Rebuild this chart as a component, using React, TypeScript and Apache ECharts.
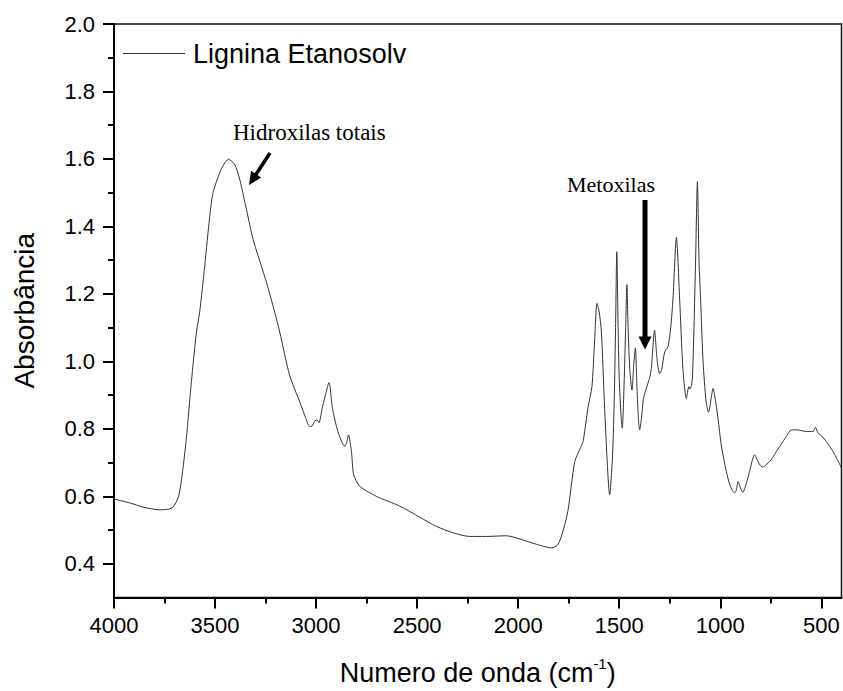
import React, { useEffect, useRef } from "react";
import * as echarts from "echarts";

const seriesName = "Lignina Etanosolv";

const wavenumber = [
  4000, 3920, 3856, 3774, 3730, 3708, 3683, 3667, 3642, 3617, 3592, 3576, 3551, 3526, 3510, 3477, 3455, 3434,
  3403, 3378, 3345, 3312, 3287, 3246, 3205, 3180, 3131, 3081, 3050, 3032, 3020, 3007, 2995, 2986, 2970, 2958,
  2936, 2919, 2892, 2858, 2848, 2840, 2825, 2814, 2784, 2702, 2586, 2487, 2405, 2323, 2240, 2157, 2058, 1959,
  1894, 1836, 1803, 1778, 1754, 1720, 1696, 1679, 1655, 1635, 1622, 1610, 1600, 1588, 1572, 1547, 1533, 1524,
  1518, 1512, 1506, 1500, 1490, 1485, 1475, 1468, 1462, 1456, 1448, 1437, 1428, 1420, 1412, 1405, 1399, 1390,
  1380, 1366, 1350, 1341, 1325, 1313, 1300, 1290, 1275, 1259, 1245, 1234, 1217, 1201, 1185, 1168, 1160, 1155,
  1150, 1143, 1138, 1130, 1122, 1113, 1105, 1095, 1085, 1070, 1058, 1045, 1036, 1028, 1011, 995, 970, 950, 929,
  920, 912, 900, 888, 870, 855, 840, 830, 815, 800, 789, 770, 756, 740, 722, 690, 670, 648, 620, 574, 541, 529,
  516, 500, 475, 442, 420, 400,
];

const absorbance = [
  0.592, 0.58, 0.568, 0.56, 0.562, 0.568, 0.595, 0.644, 0.772, 0.94, 1.087, 1.146, 1.284, 1.431, 1.5, 1.559,
  1.585, 1.599, 1.584, 1.54, 1.451, 1.362, 1.313, 1.235, 1.146, 1.087, 0.959, 0.88, 0.83, 0.807, 0.808, 0.823,
  0.826, 0.818, 0.86, 0.89, 0.937, 0.861, 0.792, 0.748, 0.76, 0.782, 0.733, 0.664, 0.63, 0.6, 0.571, 0.538,
  0.511, 0.492, 0.481, 0.481, 0.483, 0.467, 0.455, 0.447, 0.457, 0.497, 0.556, 0.703, 0.738, 0.762, 0.861,
  0.925, 1.058, 1.172, 1.15, 1.087, 0.861, 0.605, 0.72, 0.9, 1.1, 1.325, 1.12, 0.95, 0.83, 0.802, 0.95, 1.1,
  1.227, 1.1, 0.98, 0.915, 0.99, 1.04, 0.92, 0.83, 0.797, 0.83, 0.89, 0.92, 0.95, 0.979, 1.092, 1.008, 0.964,
  0.975, 1.028, 1.043, 1.1, 1.185, 1.367, 1.185, 0.98, 0.89, 0.915, 0.925, 0.918, 0.928, 0.95, 1.1, 1.3, 1.533,
  1.3, 1.15, 1.0, 0.88, 0.849, 0.89, 0.92, 0.9, 0.831, 0.752, 0.674, 0.63, 0.61, 0.62, 0.644, 0.625, 0.612,
  0.64, 0.674, 0.71, 0.723, 0.705, 0.69, 0.687, 0.695, 0.703, 0.715, 0.733, 0.762, 0.78, 0.797, 0.797, 0.792,
  0.792, 0.804, 0.787, 0.78, 0.762, 0.733, 0.708, 0.684,
];

const xMajorTicks = [4000, 3500, 3000, 2500, 2000, 1500, 1000, 500];
const xMinorTicks = [3750, 3250, 2750, 2250, 1750, 1250, 750];
const yMajorTicks = [0.4, 0.6, 0.8, 1.0, 1.2, 1.4, 1.6, 1.8, 2.0];
const yMinorTicks = [0.5, 0.7, 0.9, 1.1, 1.3, 1.5, 1.7, 1.9];

const sans = "'Liberation Sans', Arial, sans-serif";
const serif = "'Liberation Serif', 'Times New Roman', serif";

function arrow(x1: number, y1: number, x2: number, y2: number, w: number, headLen: number, headHalf: number) {
  const dx = x2 - x1;
  const dy = y2 - y1;
  const len = Math.sqrt(dx * dx + dy * dy);
  const ux = dx / len;
  const uy = dy / len;
  const bx = x2 - ux * headLen;
  const by = y2 - uy * headLen;
  const px = -uy;
  const py = ux;
  return [
    {
      type: "line",
      shape: { x1, y1, x2: bx + ux * 1, y2: by + uy * 1 },
      style: { stroke: "#000", lineWidth: w },
      silent: true,
    },
    {
      type: "polygon",
      shape: {
        points: [
          [x2, y2],
          [bx + px * headHalf, by + py * headHalf],
          [bx - px * headHalf, by - py * headHalf],
        ],
      },
      style: { fill: "#000" },
      silent: true,
    },
  ];
}

export default function App() {
  const ref = useRef<HTMLDivElement>(null);
  useEffect(() => {
    const chart = echarts.init(ref.current!, null, { renderer: "svg" });
    const data = wavenumber.map((x, i) => [x, absorbance[i]]);
    const option: any = {
      animation: false,
      backgroundColor: "#fff",
      grid: {
        left: 114,
        right: 1.5,
        top: 24,
        bottom: 91,
        show: true,
        borderColor: "#111",
        borderWidth: 1.5,
      },
      legend: {
        data: [{ name: seriesName, icon: "rect" }],
        left: 118,
        top: 35,
        itemWidth: 62,
        itemHeight: 1.2,
        itemStyle: { color: "#333" },
        textStyle: { fontSize: 27, fontFamily: sans, color: "#000", padding: [0, 0, 0, 3] },
      },
      xAxis: [
        {
          type: "value",
          min: 400,
          max: 4000,
          inverse: true,
          position: "bottom",
          splitLine: { show: false },
          axisLine: { show: true, onZero: false, lineStyle: { color: "#000", width: 2 } },
          axisTick: { show: true, customValues: xMajorTicks, length: 11, lineStyle: { color: "#000", width: 2 } },
          axisLabel: {
            customValues: xMajorTicks,
            formatter: (v: number) => String(v),
            fontSize: 22,
            fontFamily: sans,
            color: "#000",
            margin: 17,
          },
          name: "{n|Numero de onda (cm}{s|-1}{n|)}",
          nameLocation: "middle",
          nameGap: 58,
          nameTextStyle: {
            rich: {
              n: { fontSize: 27, fontFamily: sans, color: "#000", lineHeight: 34, verticalAlign: "middle" },
              s: { fontSize: 15, fontFamily: sans, color: "#000", lineHeight: 15, verticalAlign: "top" },
            },
          },
        },
        {
          type: "value",
          min: 400,
          max: 4000,
          inverse: true,
          position: "bottom",
          splitLine: { show: false },
          axisLine: { show: false },
          axisTick: { show: true, customValues: xMinorTicks, length: 6, lineStyle: { color: "#000", width: 2 } },
          axisLabel: { show: false },
        },
      ],
      yAxis: [
        {
          type: "value",
          min: 0.3,
          max: 2.0,
          position: "left",
          splitLine: { show: false },
          axisLine: { show: true, onZero: false, lineStyle: { color: "#000", width: 2 } },
          axisTick: { show: true, customValues: yMajorTicks, length: 11, lineStyle: { color: "#000", width: 2 } },
          axisLabel: {
            customValues: yMajorTicks,
            formatter: (v: number) => v.toFixed(1),
            fontSize: 22,
            fontFamily: sans,
            color: "#000",
            margin: 19,
          },
          name: "Absorbância",
          nameLocation: "middle",
          nameGap: 76,
          nameTextStyle: { fontSize: 28, fontFamily: sans, color: "#000" },
        },
        {
          type: "value",
          min: 0.3,
          max: 2.0,
          position: "left",
          splitLine: { show: false },
          axisLine: { show: false },
          axisTick: { show: true, customValues: yMinorTicks, length: 6, lineStyle: { color: "#000", width: 2 } },
          axisLabel: { show: false },
        },
      ],
      series: [
        {
          name: seriesName,
          type: "line",
          xAxisIndex: 0,
          yAxisIndex: 0,
          data,
          symbol: "none",
          showSymbol: false,
          smooth: 0.25,
          color: "#333",
          lineStyle: { color: "#333", width: 1 },
        },
      ],
      graphic: [
        {
          type: "text",
          left: 233,
          top: 121,
          style: { text: "Hidroxilas totais", font: `23px ${serif}`, fill: "#000" },
          silent: true,
        },
        {
          type: "text",
          left: 567,
          top: 173,
          style: { text: "Metoxilas", font: `22px ${serif}`, fill: "#000" },
          silent: true,
        },
        ...arrow(270, 153, 249, 185, 3.5, 13, 6),
        ...arrow(645, 200, 645, 349.5, 5, 13, 6.5),
      ],
    };
    chart.setOption(option);
    return () => chart.dispose();
  }, []);
  return <div ref={ref} style={{ position: "absolute", left: 0, top: 0, width: 843, height: 691 }} />;
}
